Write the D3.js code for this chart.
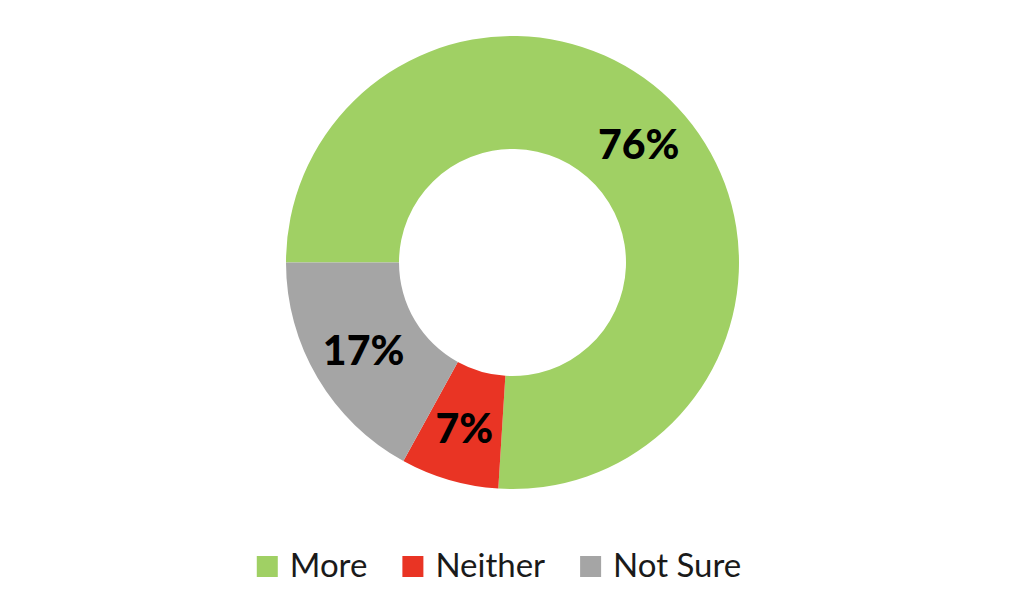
<!DOCTYPE html>
<html><head><meta charset="utf-8">
<script src="https://cdn.jsdelivr.net/npm/d3@7"></script>
<style>body{margin:0;background:#fff}</style>
</head><body>
<svg id="c" width="1024" height="595"></svg>
<script>
const categories = ["More", "Neither", "Not Sure"];
const values = [76, 7, 17];
const labels = ["76%", "7%", "17%"];
const colors = ["#A0D064", "#E93424", "#A5A5A5"];

const svg = d3.select("#c");
const cx = 512.5, cy = 262.5, R = 226.5, r = 113.5;
const pie = d3.pie().sort(null).value(d => d.v)
  .startAngle(-Math.PI/2).endAngle(1.5*Math.PI);
const data = categories.map((c,i)=>({c, v: values[i], l: labels[i], col: colors[i]}));
const arcs = pie(data);
const arc = d3.arc().innerRadius(r).outerRadius(R);
const labelArc = d3.arc().innerRadius(r+3).outerRadius(R+3);
const g = svg.append("g").attr("transform", `translate(${cx},${cy})`);
g.selectAll("path").data(arcs).join("path").attr("d", arc).attr("fill", d=>d.data.col);
g.selectAll("text").data(arcs).join("text")
  .attr("transform", d=>`translate(${labelArc.centroid(d)})`)
  .attr("text-anchor","middle").attr("dy","0.36em")
  .style("font-family","Lato, 'Open Sans', sans-serif").style("font-weight","900")
  .style("font-size","41px").attr("fill","#000").text(d=>d.data.l);

const leg = svg.append("g");
const items = leg.selectAll("g").data(data).join("g");
items.append("rect").attr("width",21).attr("height",21).attr("y",556).attr("fill",d=>d.col);
items.append("text").attr("x",33).attr("y",577)
  .style("font-family","Lato, 'Open Sans', sans-serif").style("font-size","33px")
  .attr("fill","#1a1a1a").text(d=>d.c);
let x = 0; const pos=[];
items.each(function(){ pos.push(x); x += 33 + this.querySelector("text").getComputedTextLength() + 35; });
const total = x - 35;
const start = 499 - total/2;
items.attr("transform",(d,i)=>`translate(${start+pos[i]},0)`);
</script>
</body></html>
